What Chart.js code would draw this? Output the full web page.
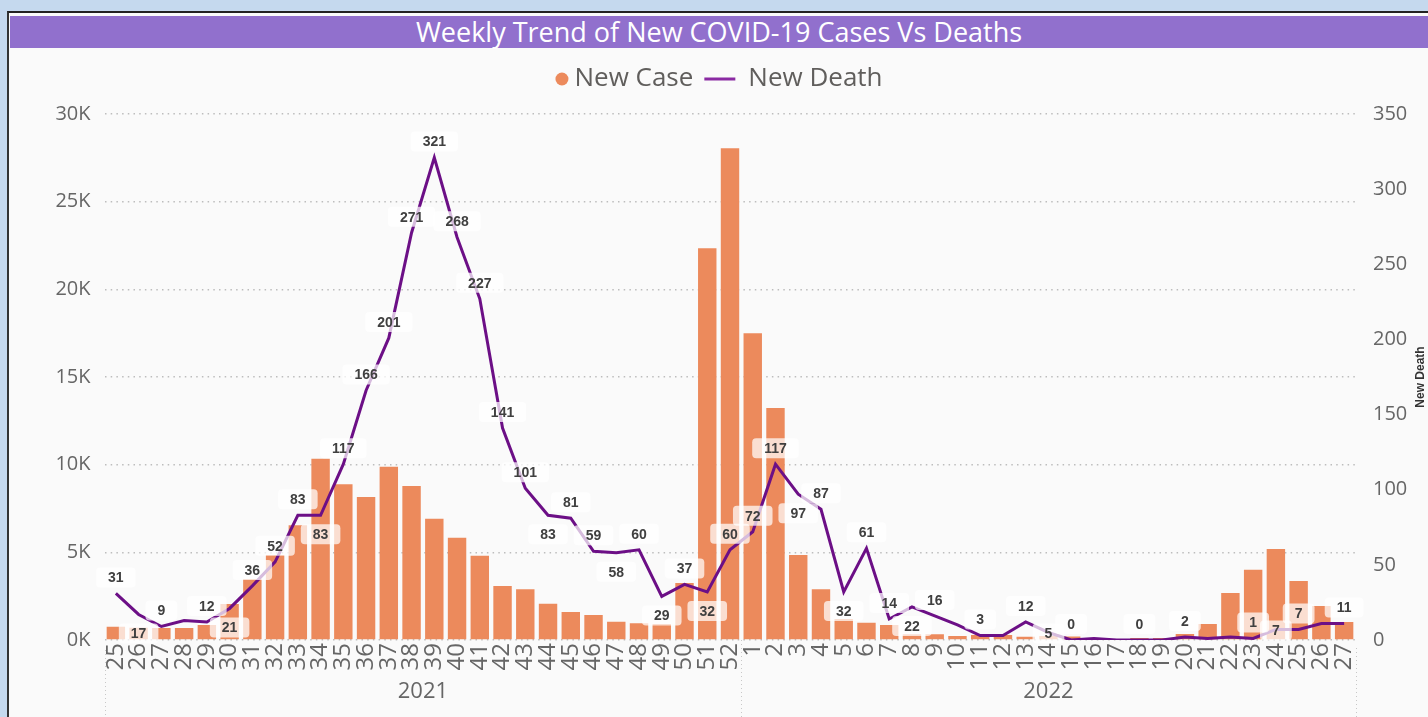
<!DOCTYPE html>
<html>
<head>
<meta charset="utf-8">
<script src="https://cdn.jsdelivr.net/npm/chart.js"></script>
<style>
  html, body { margin: 0; padding: 0; }
  body { width: 1428px; height: 717px; background: #C5D9EE; overflow: hidden; position: relative; font-family: 'Open Sans', sans-serif; }
  #visual { position: absolute; left: 7px; top: 11px; width: 1421px; height: 706px; border-left: 2px solid #333; border-top: 2px solid #222; background: #FAFAFA; }
  #title { position: absolute; left: 10px; top: 16px; width: 1418px; height: 32px; background: #9170CD; color: #fff; font-size: 27px; line-height: 32px; text-align: center; }
  #wrap { position: absolute; left: 10px; top: 48px; width: 1418px; height: 669px; }
</style>
</head>
<body>
<div id="visual"></div>
<div id="title">Weekly Trend of New COVID-19 Cases Vs Deaths</div>
<div id="wrap"><canvas id="covidChart" width="1418" height="669"></canvas></div>
<script>
// week numbers per year
const weeks2021 = ['25','26','27','28','29','30','31','32','33','34','35','36','37','38','39','40','41','42','43','44','45','46','47','48','49','50','51','52'];
const weeks2022 = ['1','2','3','4','5','6','7','8','9','10','11','12','13','14','15','16','17','18','19','20','21','22','23','24','25','26','27'];
const years = ['2021', '2022'];

// weekly new cases
const newCase = [
  760, 700, 680, 680, 850, 2050, 3480, 4850, 6550, 10340, 8890, 8150, 9880, 8780,
  6920, 5830, 4800, 3080, 2900, 2070, 1600, 1420, 1045, 950, 910, 3250, 22350, 28050,
  17500, 13230, 4850, 2900, 1200, 990, 855, 325, 325, 230, 285, 285, 190, 230,
  200, 110, 60, 110, 110, 340, 910, 2680, 4000, 5190, 3360, 1940, 1030
];

// weekly new deaths
const newDeath = [
  31, 17, 9, 13, 12, 21, 36, 52, 83, 83, 117, 166, 201, 271,
  321, 268, 227, 141, 101, 83, 81, 59, 58, 60, 29, 37, 32, 60,
  72, 117, 97, 87, 32, 61, 14, 22, 16, 10, 3, 3, 12, 5,
  0, 1, 0, 0, 0, 2, 1, 2, 1, 7, 7, 11, 11
];

// where each death label sits: a = above, b = below, c = on the point, '' = hidden
const deathLabelPlace = [
  'a','b','a','','a','b','a','a','a','b','a','a','a','a',
  'a','a','a','a','a','b','a','a','b','a','b','a','b','a',
  'a','a','b','a','b','a','a','b','a','','a','','a','c',
  'a','','','a','','a','','','a','c','a','','a'
];

const weekLabels = weeks2021.concat(weeks2022);

const CASE_COLOR = '#EC8A5C';
const DEATH_COLOR = '#6C0F86';
const TEXT_COLOR = '#666666';

const deathLabels = {
  id: 'deathLabels',
  afterDatasetsDraw(chart) {
    const meta = chart.getDatasetMeta(1);
    const ctx = chart.ctx;
    ctx.save();
    ctx.font = 'bold 14px "Liberation Sans", Arial, sans-serif';
    ctx.textAlign = 'center';
    ctx.textBaseline = 'middle';
    meta.data.forEach((pt, i) => {
      const place = deathLabelPlace[i];
      if (!place) return;
      const txt = String(newDeath[i]);
      const w = ctx.measureText(txt).width + 24;
      const cy = pt.y + (place === 'a' ? -16 : place === 'b' ? 19 : 1);
      ctx.fillStyle = 'rgba(255,255,255,0.72)';
      ctx.beginPath();
      ctx.roundRect(pt.x - w / 2, cy - 10, w, 20, 4);
      ctx.fill();
      ctx.fillStyle = '#404040';
      ctx.fillText(txt, pt.x, cy + 1);
    });
    ctx.restore();
  }
};

const extras = {
  id: 'extras',
  afterDraw(chart) {
    const ctx = chart.ctx;
    const area = chart.chartArea;
    const x = chart.scales.x;
    const n = weeks2021.length;
    const split = (x.getPixelForValue(n - 1) + x.getPixelForValue(n)) / 2;

    ctx.save();
    // year separators
    ctx.strokeStyle = '#C8C8C8';
    ctx.lineWidth = 1;
    ctx.setLineDash([1, 3]);
    [[area.left, area.bottom + 10], [split, area.bottom], [area.right, area.bottom + 8]].forEach(([px, y0]) => {
      ctx.beginPath();
      ctx.moveTo(Math.round(px) + 0.5, y0);
      ctx.lineTo(Math.round(px) + 0.5, chart.height);
      ctx.stroke();
    });
    ctx.setLineDash([]);

    // year labels
    ctx.fillStyle = TEXT_COLOR;
    ctx.font = '22px "Open Sans", sans-serif';
    ctx.textAlign = 'center';
    ctx.textBaseline = 'middle';
    ctx.fillText(years[0], (area.left + split) / 2, area.bottom + 52);
    ctx.fillText(years[1], (split + area.right) / 2, area.bottom + 52);

    // legend
    ctx.font = '26px "Open Sans", sans-serif';
    ctx.textAlign = 'left';
    const t1 = 'New Case', t2 = 'New Death';
    const w1 = ctx.measureText(t1).width, w2 = ctx.measureText(t2).width;
    const total = 13 + 6 + w1 + 11 + 31 + 13 + w2;
    let lx = chart.width / 2 - total / 2;
    const ly = 31;
    ctx.fillStyle = CASE_COLOR;
    ctx.beginPath();
    ctx.arc(lx + 6.5, ly, 6.5, 0, Math.PI * 2);
    ctx.fill();
    lx += 19;
    ctx.fillStyle = '#605E5C';
    ctx.fillText(t1, lx, ly);
    lx += w1 + 11;
    ctx.strokeStyle = '#8A2AA2';
    ctx.lineWidth = 3;
    ctx.beginPath();
    ctx.moveTo(lx, ly);
    ctx.lineTo(lx + 31, ly);
    ctx.stroke();
    lx += 44;
    ctx.fillText(t2, lx, ly);

    // right axis title, reading bottom to top
    ctx.translate(chart.width - 7, (area.top + area.bottom) / 2);
    ctx.rotate(-Math.PI / 2);
    ctx.font = 'bold 12px "Liberation Sans", Arial, sans-serif';
    ctx.fillStyle = '#333';
    ctx.textAlign = 'center';
    ctx.fillText('New Death', 0, 0);
    ctx.restore();
  }
};

new Chart(document.getElementById('covidChart'), {
  type: 'bar',
  data: {
    labels: weekLabels,
    datasets: [
      {
        label: 'New Case',
        data: newCase,
        backgroundColor: CASE_COLOR,
        categoryPercentage: 1,
        barPercentage: 0.81,
        yAxisID: 'y',
        order: 1
      },
      {
        type: 'line',
        label: 'New Death',
        data: newDeath,
        borderColor: DEATH_COLOR,
        borderWidth: 3,
        pointRadius: 0,
        tension: 0,
        yAxisID: 'y1',
        order: 0
      }
    ]
  },
  options: {
    responsive: false,
    animation: false,
    devicePixelRatio: 1,
    layout: { padding: { top: 66, left: 0, right: 0, bottom: 0 } },
    plugins: {
      legend: { display: false },
      tooltip: { enabled: false }
    },
    scales: {
      x: {
        grid: { display: false, drawTicks: false },
        border: { display: false },
        ticks: {
          autoSkip: false,
          minRotation: 90,
          maxRotation: 90,
          padding: 3,
          color: TEXT_COLOR,
          font: { family: 'Open Sans', size: 24 }
        },
        afterFit(scale) { scale.height = 77; }
      },
      y: {
        position: 'left',
        min: 0,
        max: 30000,
        ticks: {
          stepSize: 5000,
          padding: 14,
          color: TEXT_COLOR,
          font: { family: 'Open Sans', size: 20 },
          callback: v => (v / 1000) + 'K'
        },
        grid: { color: '#BDBDBD', lineWidth: 1.5, drawTicks: false },
        border: { display: false, dash: [1.5, 4.2] },
        afterFit(scale) { scale.width = 94.5; }
      },
      y1: {
        position: 'right',
        min: 0,
        max: 350,
        ticks: {
          stepSize: 50,
          padding: 17.5,
          color: TEXT_COLOR,
          font: { family: 'Open Sans', size: 20 }
        },
        grid: { drawOnChartArea: false, drawTicks: false },
        border: { display: false },
        afterFit(scale) { scale.width = 72.5; }
      }
    }
  },
  plugins: [deathLabels, extras]
});
</script>
</body>
</html>
